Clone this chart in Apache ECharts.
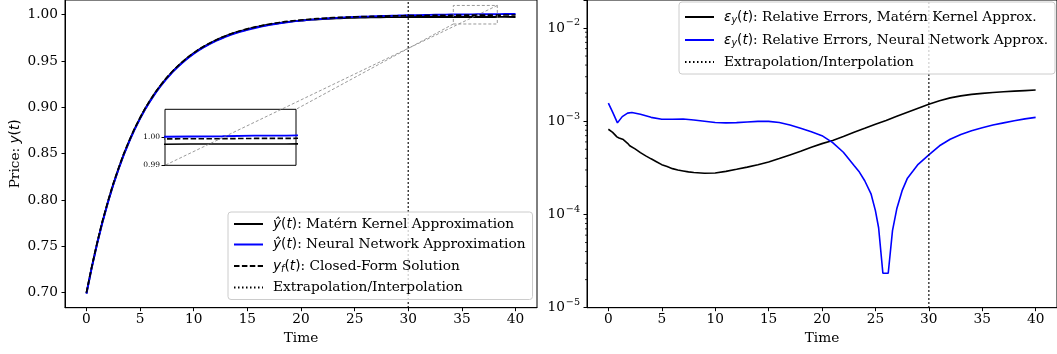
<!DOCTYPE html>
<html>
<head>
<meta charset="utf-8">
<script src="https://cdn.jsdelivr.net/npm/echarts@6/dist/echarts.min.js"></script>
<style>
  html, body { margin: 0; padding: 0; background: #ffffff; }
  #chart { width: 1057px; height: 354px; }
</style>
</head>
<body>
<div id="chart"></div>
<script>
// ---- price curves (left panel) ----
const timeGrid = [0, 1, 2, 3, 4, 5, 6, 7, 8, 9, 10, 11, 12, 13, 14, 15, 16, 17, 18, 19, 20,
  21, 22, 23, 24, 25, 26, 27, 28, 29, 30, 31, 32, 33, 34, 35, 36, 37, 38, 39, 40];
const closedForm = [0.7000, 0.7540, 0.7983, 0.8346, 0.8644, 0.8888, 0.9088, 0.9252, 0.9387, 0.9497,
  0.9588, 0.9662, 0.9723, 0.9773, 0.9814, 0.9847, 0.9875, 0.9897, 0.9916, 0.9931,
  0.9943, 0.9953, 0.9961, 0.9968, 0.9973, 0.9977, 0.9980, 0.9983, 0.9986, 0.9988,
  0.9990, 0.9991, 0.9992, 0.9993, 0.9994, 0.9995, 0.9995, 0.9996, 0.9996, 0.9997, 0.9997];
const maternApprox = [0.6994, 0.7535, 0.7979, 0.8342, 0.8641, 0.8885, 0.9085, 0.9249, 0.9384, 0.9494,
  0.9585, 0.9659, 0.9720, 0.9770, 0.9811, 0.9843, 0.9871, 0.9893, 0.9911, 0.9926,
  0.9937, 0.9947, 0.9954, 0.9960, 0.9965, 0.9968, 0.9970, 0.9972, 0.9974, 0.9974,
  0.9975, 0.9975, 0.9975, 0.9975, 0.9975, 0.9976, 0.9976, 0.9976, 0.9976, 0.9977, 0.9976];
const nnApprox = [0.6989, 0.7531, 0.7973, 0.8336, 0.8634, 0.8879, 0.9078, 0.9242, 0.9377, 0.9488,
  0.9579, 0.9653, 0.9714, 0.9763, 0.9804, 0.9837, 0.9865, 0.9888, 0.9908, 0.9923,
  0.9936, 0.9947, 0.9956, 0.9965, 0.9971, 0.9976, 0.9980, 0.9984, 0.9988, 0.9991,
  0.9994, 0.9996, 0.9998, 1.0000, 1.0002, 1.0003, 1.0004, 1.0006, 1.0006, 1.0008, 1.0008];

// ---- relative errors (right panel) ----
const maternErrTime = [0, 0.4, 0.8, 1.0, 1.4, 1.8, 2.0, 2.5, 3.0, 3.5, 4.0, 4.5, 5.0, 5.5, 6.0, 6.5,
  7.0, 7.5, 8.0, 9.0, 10, 11, 12, 13, 14, 15, 16, 17, 18, 19, 20, 21, 22, 23, 24, 25,
  26, 27, 28, 29, 30, 31, 32, 33, 34, 35, 36, 37, 38, 39, 40];
const maternErr = [8.2e-4, 7.6e-4, 6.8e-4, 6.6e-4, 6.35e-4, 5.8e-4, 5.45e-4, 5.05e-4, 4.6e-4, 4.25e-4,
  3.95e-4, 3.68e-4, 3.42e-4, 3.26e-4, 3.1e-4, 3.0e-4, 2.93e-4, 2.86e-4, 2.82e-4, 2.77e-4,
  2.78e-4, 2.9e-4, 3.05e-4, 3.22e-4, 3.42e-4, 3.66e-4, 3.98e-4, 4.35e-4, 4.75e-4, 5.25e-4,
  5.75e-4, 6.2e-4, 6.85e-4, 7.6e-4, 8.4e-4, 9.3e-4, 1.02e-3, 1.13e-3, 1.25e-3, 1.38e-3,
  1.52e-3, 1.66e-3, 1.78e-3, 1.87e-3, 1.94e-3, 1.99e-3, 2.03e-3, 2.07e-3, 2.10e-3, 2.13e-3, 2.16e-3];
const nnErrTime = [0, 0.4, 0.85, 1.3, 1.8, 2.2, 3, 4, 5, 6, 7, 8, 9, 10, 11, 12, 13, 14, 15, 16,
  17, 18, 19, 20, 21, 22, 23, 23.5, 24, 24.6, 25, 25.3, 25.7, 26.2, 26.6, 27, 27.5, 28, 28.5,
  29, 30, 31, 32, 33, 34, 35, 36, 37, 38, 39, 40];
const nnErr = [1.56e-3, 1.25e-3, 9.6e-4, 1.12e-3, 1.22e-3, 1.24e-3, 1.19e-3, 1.10e-3, 1.05e-3, 1.05e-3,
  1.055e-3, 1.03e-3, 1.0e-3, 9.7e-4, 9.6e-4, 9.65e-4, 9.8e-4, 9.95e-4, 9.95e-4, 9.7e-4,
  9.1e-4, 8.4e-4, 7.7e-4, 7.0e-4, 5.9e-4, 4.65e-4, 3.35e-4, 2.85e-4, 2.3e-4, 1.65e-4,
  1.1e-4, 7.2e-5, 2.34e-5, 2.34e-5, 6.7e-5, 1.15e-4, 1.8e-4, 2.45e-4, 2.9e-4,
  3.45e-4, 4.35e-4, 5.45e-4, 6.4e-4, 7.2e-4, 7.9e-4, 8.5e-4, 9.1e-4, 9.6e-4, 1.01e-3, 1.06e-3, 1.1e-3];

// ---- boundaries, zoom window and ticks ----
const splitTime = 30;
const zoomTime = [34.2, 38.3];
const zoomPrice = [0.99, 1.01];
const timeRange = [-2, 42];
const priceRange = [0.6838, 1.0159];
const errRange = [1e-5, 0.01995];
const timeTicks = [0, 5, 10, 15, 20, 25, 30, 35, 40];
const priceTicks = [0.70, 0.75, 0.80, 0.85, 0.90, 0.95, 1.00];
const insetTicks = [0.99, 1.00];
const errMinorTicks = [];
for (let e = -5; e <= -2; e++) {
  for (let m = 2; m <= 9; m++) {
    const v = m * Math.pow(10, e);
    if (v < errRange[1]) errMinorTicks.push(v);
  }
}

const NAMES = {
  mk: 'ŷ(t): Matérn Kernel Approximation',
  nn: 'ŷ(t): Neural Network Approximation',
  cf: 'yf(t): Closed-Form Solution',
  ei: 'Extrapolation/Interpolation',
  emk: 'εy(t): Relative Errors, Matérn Kernel Approx.',
  enn: 'εy(t): Relative Errors, Neural Network Approx.'
};
const LEGEND_RICH_TEXT = {};
LEGEND_RICH_TEXT[NAMES.mk] = '{i|ŷ}{u|(}{i|t}{u|)}{t|: Matérn Kernel Approximation}';
LEGEND_RICH_TEXT[NAMES.nn] = '{i|ŷ}{u|(}{i|t}{u|)}{t|: Neural Network Approximation}';
LEGEND_RICH_TEXT[NAMES.cf] = '{i|y}{s|f}{u|(}{i|t}{u|)}{t|: Closed-Form Solution}';
LEGEND_RICH_TEXT[NAMES.ei] = '{t|Extrapolation/Interpolation}';
LEGEND_RICH_TEXT[NAMES.emk] = '{i|ε}{s|y}{u|(}{i|t}{u|)}{t|: Relative Errors, Matérn Kernel Approx.}';
LEGEND_RICH_TEXT[NAMES.enn] = '{i|ε}{s|y}{u|(}{i|t}{u|)}{t|: Relative Errors, Neural Network Approx.}';

const SERIF = 'DejaVu Serif';
const SANS = 'DejaVu Sans';
const FS = 13.7;
const INK = '#000000';

const richBase = {
  t: { fontFamily: SERIF, fontSize: FS, color: INK, lineHeight: 16 },
  i: { fontFamily: SANS, fontStyle: 'italic', fontSize: FS, color: INK, lineHeight: 16 },
  u: { fontFamily: SANS, fontSize: FS, color: INK, lineHeight: 16 },
  s: { fontFamily: SANS, fontStyle: 'italic', fontSize: 9.6, color: INK, lineHeight: 10, padding: [6, 0, 0, 0] }
};

const zip = (xs, ys) => xs.map((x, k) => [x, ys[k]]);

const GRID_MAIN = { left: 65, top: -1, width: 472, height: 308.7 };
const GRID_ERR = { left: 587, top: -1, width: 474.6, height: 308.7 };
const GRID_INSET = { left: 165, top: 109.3, width: 131, height: 56 };

function linearAxis(gridIndex, range, ticks, fmt, extra) {
  return Object.assign({
    type: 'value', gridIndex: gridIndex, min: range[0], max: range[1],
    axisLine: { show: true, onZero: false, lineStyle: { color: INK, width: 1 } },
    axisTick: { show: true, length: 3.5, customValues: ticks, lineStyle: { color: INK, width: 1 } },
    axisLabel: { customValues: ticks, formatter: fmt, color: INK, fontFamily: SERIF, fontSize: FS, margin: 5 },
    splitLine: { show: false }
  }, extra || {});
}

const legendCommon = {
  orient: 'vertical',
  itemWidth: 29, itemHeight: 14,
  backgroundColor: 'rgba(255,255,255,0.8)', borderColor: '#cccccc', borderWidth: 1, borderRadius: 3,
  selectedMode: false,
  formatter: n => LEGEND_RICH_TEXT[n],
  itemStyle: { color: 'transparent', borderColor: 'transparent', borderWidth: 0, opacity: 0 },
  textStyle: { rich: richBase, padding: [0, 0, 0, 5] }
};

const option = {
  animation: false,
  backgroundColor: '#ffffff',
  grid: [
    Object.assign({ show: true, borderColor: INK, borderWidth: 1, backgroundColor: 'transparent' }, GRID_MAIN),
    Object.assign({ show: true, borderColor: INK, borderWidth: 1, backgroundColor: 'transparent' }, GRID_ERR),
    Object.assign({ show: true, borderColor: INK, borderWidth: 1, backgroundColor: '#ffffff', z: 5 }, GRID_INSET)
  ],
  xAxis: [
    linearAxis(0, timeRange, timeTicks, v => String(v), {
      name: 'Time', nameLocation: 'middle', nameGap: 24,
      nameTextStyle: { fontFamily: SERIF, fontSize: FS, color: INK }
    }),
    linearAxis(1, timeRange, timeTicks, v => String(v), {
      name: 'Time', nameLocation: 'middle', nameGap: 24,
      nameTextStyle: { fontFamily: SERIF, fontSize: FS, color: INK }
    }),
    {
      type: 'value', gridIndex: 2, min: zoomTime[0], max: zoomTime[1],
      axisLine: { show: false }, axisTick: { show: false }, axisLabel: { show: false }, splitLine: { show: false }
    }
  ],
  yAxis: [
    linearAxis(0, priceRange, priceTicks, v => v.toFixed(2), {
      name: '{t|Price: }{i|y}{u|(}{i|t}{u|)}', nameLocation: 'middle', nameGap: 42,
      nameTextStyle: { rich: richBase },
      axisLabel: { customValues: priceTicks, formatter: v => v.toFixed(2), color: INK, fontFamily: SERIF, fontSize: FS, margin: 7 }
    }),
    {
      type: 'log', logBase: 10, gridIndex: 1, min: errRange[0], max: errRange[1],
      axisLine: { show: true, onZero: false, lineStyle: { color: INK, width: 1 } },
      axisTick: { show: true, length: 3.5, lineStyle: { color: INK, width: 1 } },
      axisLabel: {
        margin: 7,
        formatter: v => {
          const e = Math.log10(v);
          const r = Math.round(e);
          if (Math.abs(e - r) > 1e-6 || v > errRange[1] * 0.99) return '';
          return '{b|10}{e|−' + (-r) + '}';
        },
        rich: {
          b: { fontFamily: SERIF, fontSize: FS, color: INK },
          e: { fontFamily: SERIF, fontSize: 9.6, color: INK, padding: [0, 0, 10, 1] }
        }
      },
      splitLine: { show: false }
    },
    linearAxis(2, zoomPrice, insetTicks, v => v.toFixed(2), {
      axisLine: { show: false },
      axisLabel: { customValues: insetTicks, formatter: v => v.toFixed(2), color: INK, fontFamily: SERIF, fontSize: 7.5, margin: 5 },
      z: 6
    })
  ],
  legend: [
    Object.assign({}, legendCommon, {
      left: 228, top: 212, itemGap: 6.5, padding: [5, 7, 5, 5],
      data: [NAMES.mk, NAMES.nn, NAMES.cf, NAMES.ei]
    }),
    Object.assign({}, legendCommon, {
      left: 679, top: 2, itemGap: 7, padding: [7, 7, 5, 5],
      data: [NAMES.emk, NAMES.enn, NAMES.ei]
    })
  ],
  series: [
    // left panel
    { name: NAMES.mk, type: 'line', xAxisIndex: 0, yAxisIndex: 0, data: zip(timeGrid, maternApprox),
      symbol: 'none', smooth: 0.5, lineStyle: { color: '#000000', width: 1.9 }, itemStyle: { color: '#000000' } },
    { name: NAMES.nn, type: 'line', xAxisIndex: 0, yAxisIndex: 0, data: zip(timeGrid, nnApprox),
      symbol: 'none', smooth: 0.5, lineStyle: { color: '#0000ff', width: 1.9 }, itemStyle: { color: '#0000ff' } },
    { name: NAMES.cf, type: 'line', xAxisIndex: 0, yAxisIndex: 0, data: zip(timeGrid, closedForm),
      symbol: 'none', smooth: 0.5, lineStyle: { color: '#000000', width: 1.7, type: [5.5, 2.4] }, itemStyle: { color: '#000000' } },
    { name: NAMES.ei, type: 'line', xAxisIndex: 0, yAxisIndex: 0, data: [[splitTime, priceRange[0]], [splitTime, priceRange[1]]],
      symbol: 'none', lineStyle: { color: '#000000', width: 1.5, type: [1.5, 2.5] }, itemStyle: { color: '#000000' } },
    // zoom window outline
    { type: 'line', xAxisIndex: 0, yAxisIndex: 0, silent: true, symbol: 'none',
      data: [[zoomTime[0], zoomPrice[0]], [zoomTime[1], zoomPrice[0]], [zoomTime[1], zoomPrice[1]],
             [zoomTime[0], zoomPrice[1]], [zoomTime[0], zoomPrice[0]]],
      lineStyle: { color: '#808080', width: 0.8, type: [3, 2] }, z: 3 },
    // inset
    { type: 'line', xAxisIndex: 2, yAxisIndex: 2, data: zip(timeGrid, maternApprox), symbol: 'none', z: 7,
      lineStyle: { color: '#000000', width: 1.6 } },
    { type: 'line', xAxisIndex: 2, yAxisIndex: 2, data: zip(timeGrid, nnApprox), symbol: 'none', z: 7,
      lineStyle: { color: '#0000ff', width: 1.9 } },
    { type: 'line', xAxisIndex: 2, yAxisIndex: 2, data: zip(timeGrid, closedForm), symbol: 'none', z: 7,
      lineStyle: { color: '#000000', width: 1.6, type: [5.5, 2.4] } },
    // right panel
    { name: NAMES.emk, type: 'line', xAxisIndex: 1, yAxisIndex: 1, data: zip(maternErrTime, maternErr),
      symbol: 'none', lineStyle: { color: '#000000', width: 1.6 }, itemStyle: { color: '#000000' } },
    { name: NAMES.enn, type: 'line', xAxisIndex: 1, yAxisIndex: 1, data: zip(nnErrTime, nnErr),
      symbol: 'none', lineStyle: { color: '#0000ff', width: 1.6 }, itemStyle: { color: '#0000ff' } },
    { name: NAMES.ei, type: 'line', xAxisIndex: 1, yAxisIndex: 1, data: [[splitTime, errRange[0]], [splitTime, errRange[1]]],
      symbol: 'none', lineStyle: { color: '#000000', width: 1.5, type: [1.5, 2.5] }, itemStyle: { color: '#000000' } },
    // minor ticks of the log axis
    { type: 'custom', xAxisIndex: 1, yAxisIndex: 1, silent: true, clip: false,
      data: errMinorTicks.map(v => [timeRange[0], v]),
      renderItem: (params, api) => {
        const p = api.coord([api.value(0), api.value(1)]);
        return { type: 'line', shape: { x1: p[0] - 2, y1: p[1], x2: p[0], y2: p[1] },
                 style: { stroke: INK, lineWidth: 0.8 } };
      } }
  ]
};

const chart = echarts.init(document.getElementById('chart'), null, { renderer: 'canvas' });
chart.setOption(option);

// connector lines between the zoom window and the inset
const winTR = chart.convertToPixel({ gridIndex: 0 }, [zoomTime[1], zoomPrice[1]]);
const winBL = chart.convertToPixel({ gridIndex: 0 }, [zoomTime[0], zoomPrice[0]]);
const insBL = chart.convertToPixel({ gridIndex: 2 }, [zoomTime[0], zoomPrice[0]]);
const insTR = chart.convertToPixel({ gridIndex: 2 }, [zoomTime[1], zoomPrice[1]]);
const connectorStyle = { stroke: '#808080', lineWidth: 0.8, lineDash: [3, 2] };
chart.setOption({
  graphic: [
    { type: 'line', z: 100, silent: true, shape: { x1: winTR[0], y1: winTR[1], x2: insBL[0], y2: insBL[1] }, style: connectorStyle },
    { type: 'line', z: 100, silent: true, shape: { x1: winBL[0], y1: winBL[1], x2: insTR[0], y2: insTR[1] }, style: connectorStyle }
  ]
});
</script>
</body>
</html>
